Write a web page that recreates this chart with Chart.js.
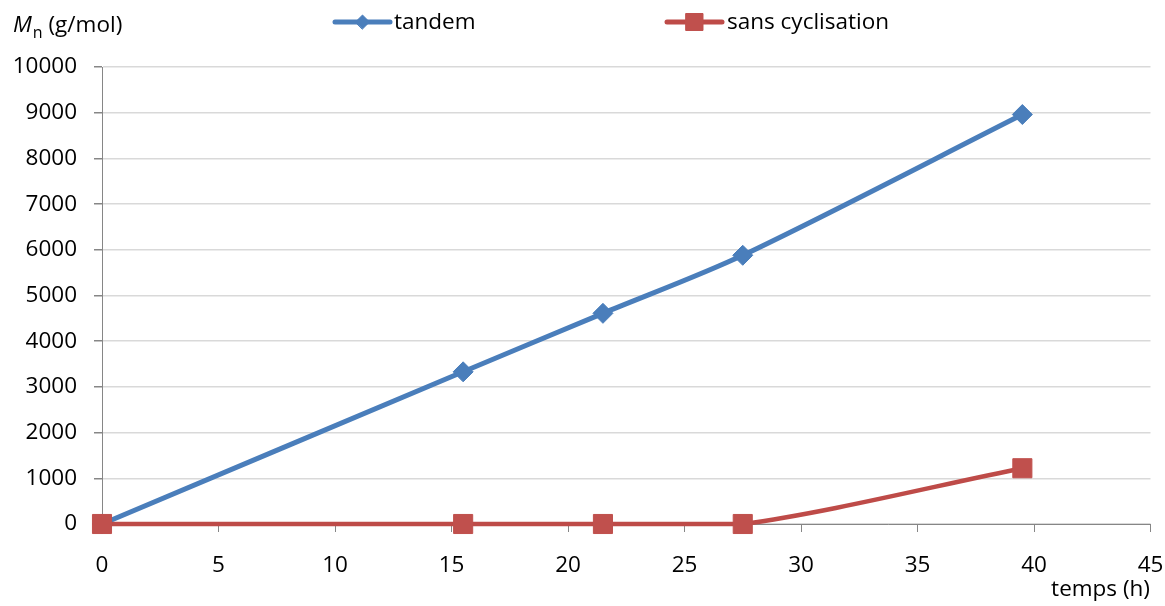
<!DOCTYPE html>
<html>
<head>
<meta charset="utf-8">
<script src="https://cdn.jsdelivr.net/npm/chart.js@4/dist/chart.umd.min.js"></script>
<style>
  html, body { margin: 0; padding: 0; background: #fff; }
  #wrap { width: 1165px; height: 606px; }
</style>
</head>
<body>
<div id="wrap"><canvas id="c" width="1165" height="606"></canvas></div>
<script>
// Reaction time (h) and number-average molar mass Mn (g/mol)
const times = [0, 15.5, 21.5, 27.5, 39.5];
const tandem = [0, 3330, 4610, 5880, 8960];
const sansCyclisation = [0, 0, 0, 0, 1220];
const seriesNames = ['tandem', 'sans cyclisation'];
const xTicks = [0, 5, 10, 15, 20, 25, 30, 35, 40, 45];
const yTicks = [0, 1000, 2000, 3000, 4000, 5000, 6000, 7000, 8000, 9000, 10000];

const BLUE = '#4a7ebb';
const RED = '#be4b48';
const AXIS = '#868686';
const GRID = '#d9d9d9';
const FONT = '"Open Sans", "DejaVu Sans", sans-serif';

const toPoints = ys => times.map((t, i) => ({ x: t, y: ys[i] }));

// Legend entries: line segment with the series marker, then the name
const legendPlugin = {
  id: 'lineLegend',
  afterDraw(chart) {
    const ctx = chart.ctx;
    const items = [
      { ds: chart.data.datasets[0], x0: 335, x1: 390, r: 7, tx: 394 },
      { ds: chart.data.datasets[1], x0: 667, x1: 722, r: 12, tx: 727 }
    ];
    const y = 22;
    ctx.save();
    items.forEach(it => {
      ctx.strokeStyle = it.ds.borderColor;
      ctx.lineWidth = 5;
      ctx.lineCap = 'round';
      ctx.beginPath();
      ctx.moveTo(it.x0, y);
      ctx.lineTo(it.x1, y);
      ctx.stroke();
      ctx.fillStyle = it.ds.pointBackgroundColor;
      ctx.strokeStyle = it.ds.pointBorderColor;
      ctx.lineWidth = 1;
      Chart.helpers.drawPoint(ctx, { pointStyle: it.ds.pointStyle, radius: it.r, rotation: 0, borderWidth: 1 }, (it.x0 + it.x1) / 2, y);
      ctx.fillStyle = '#000';
      ctx.font = '22.5px ' + FONT;
      ctx.textBaseline = 'middle';
      ctx.textAlign = 'left';
      ctx.fillText(it.ds.label, it.tx, y + 1);
    });
    ctx.restore();
  }
};

// Axis titles: "Mn (g/mol)" top-left, "temps (h)" bottom-right
const titlesPlugin = {
  id: 'axisTitles',
  afterDraw(chart) {
    const ctx = chart.ctx;
    ctx.save();
    ctx.fillStyle = '#000';
    ctx.textBaseline = 'alphabetic';
    ctx.textAlign = 'left';
    let x = 13;
    const base = 32;
    ctx.font = 'italic 22.5px ' + FONT;
    ctx.fillText('M', x, base);
    x += ctx.measureText('M').width + 1;
    ctx.font = '16px ' + FONT;
    ctx.fillText('n', x, base + 6);
    x += ctx.measureText('n').width;
    ctx.font = '22.5px ' + FONT;
    ctx.fillText(' (g/mol)', x, base);

    ctx.textAlign = 'right';
    ctx.fillText('temps (h)', 1150, 596);
    ctx.restore();
  }
};

const plainNumber = v => String(v);

new Chart(document.getElementById('c'), {
  type: 'line',
  data: {
    datasets: [
      {
        label: seriesNames[0],
        data: toPoints(tandem),
        borderColor: BLUE,
        backgroundColor: BLUE,
        borderWidth: 5,
        pointStyle: 'rectRot',
        pointRadius: 10,
        pointBackgroundColor: BLUE,
        pointBorderColor: BLUE,
        pointBorderWidth: 1,
        tension: 0.3,
        clip: false,
        order: 1
      },
      {
        label: seriesNames[1],
        data: toPoints(sansCyclisation),
        borderColor: RED,
        backgroundColor: '#c0504d',
        borderWidth: 4.5,
        pointStyle: 'rect',
        pointRadius: 13.5,
        pointBackgroundColor: '#c0504d',
        pointBorderColor: '#c0504d',
        pointBorderWidth: 1,
        tension: 0.3,
        clip: false,
        order: 0
      }
    ]
  },
  options: {
    responsive: false,
    animation: false,
    layout: { padding: { left: 0, right: 14, top: 67, bottom: 0 } },
    plugins: {
      legend: { display: false },
      tooltip: { enabled: false }
    },
    scales: {
      x: {
        type: 'linear',
        min: xTicks[0],
        max: xTicks[xTicks.length - 1],
        afterBuildTicks: s => { s.ticks = xTicks.map(v => ({ value: v })); },
        afterFit: s => { s.height = 82; s.paddingLeft = 0; s.paddingRight = 0; },
        border: { display: true, color: AXIS, width: 1 },
        grid: { display: true, drawOnChartArea: false, drawTicks: true, tickLength: 8, color: AXIS },
        ticks: { color: '#000', font: { family: FONT, size: 22.5 }, padding: 20, maxRotation: 0, callback: plainNumber }
      },
      y: {
        type: 'linear',
        min: yTicks[0],
        max: yTicks[yTicks.length - 1],
        afterBuildTicks: s => { s.ticks = yTicks.map(v => ({ value: v })); },
        afterFit: s => { s.width = 102; s.paddingTop = 0; s.paddingBottom = 0; },
        border: { display: true, color: AXIS, width: 1 },
        grid: { color: GRID, lineWidth: 1.5, tickColor: AXIS, tickLength: 8 },
        ticks: { color: '#000', font: { family: FONT, size: 22.5 }, padding: 17, callback: plainNumber }
      }
    }
  },
  plugins: [legendPlugin, titlesPlugin]
});
</script>
</body>
</html>
